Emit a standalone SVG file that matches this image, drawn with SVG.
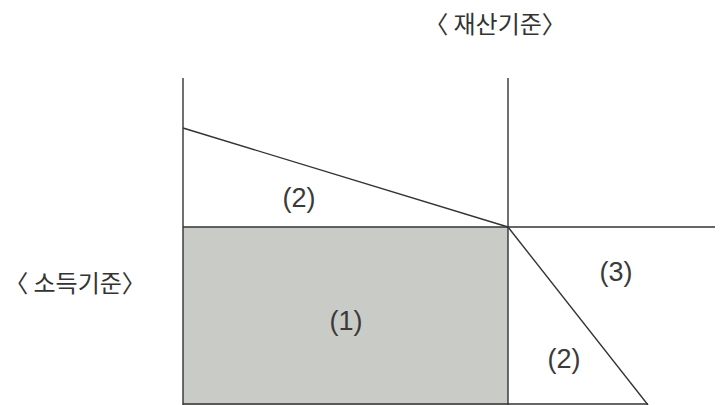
<svg xmlns="http://www.w3.org/2000/svg" width="720" height="405" viewBox="0 0 720 405">
<style>
.ln{stroke:#333;stroke-width:1.4;fill:none}
.lbl{font-family:"Liberation Sans",Arial,sans-serif;font-size:27px;fill:#3a3a3a;text-anchor:middle}
.kr{font-family:"Noto Sans CJK KR","Noto Sans",sans-serif;font-size:24px;fill:#333;text-anchor:middle}
</style>
<rect width="720" height="405" fill="#fff"/>
<g id="region1"><rect x="183" y="227" width="325" height="178" fill="#c9cbc7"/><text class="lbl" x="346" y="330">(1)</text></g>
<g id="connectors">
<line class="ln" x1="183" y1="78" x2="183" y2="405"/>
<line class="ln" x1="508" y1="78" x2="508" y2="405"/>
<line class="ln" x1="183" y1="227" x2="715" y2="227"/>
<line class="ln" x1="183" y1="404" x2="648" y2="404"/>
<line class="ln" x1="183" y1="128" x2="508" y2="227"/>
<line class="ln" x1="508" y1="227" x2="648" y2="405"/>
</g>
<g id="region2a"><text class="lbl" x="299" y="207">(2)</text></g>
<g id="region3"><text class="lbl" x="616" y="281">(3)</text></g>
<g id="region2b"><text class="lbl" x="564" y="368">(2)</text></g>
<g id="label-asset"><text class="kr" x="495" y="33">〈 재산기준〉</text></g>
<g id="label-income"><text class="kr" x="75" y="292">〈 소득기준〉</text></g>
</svg>
